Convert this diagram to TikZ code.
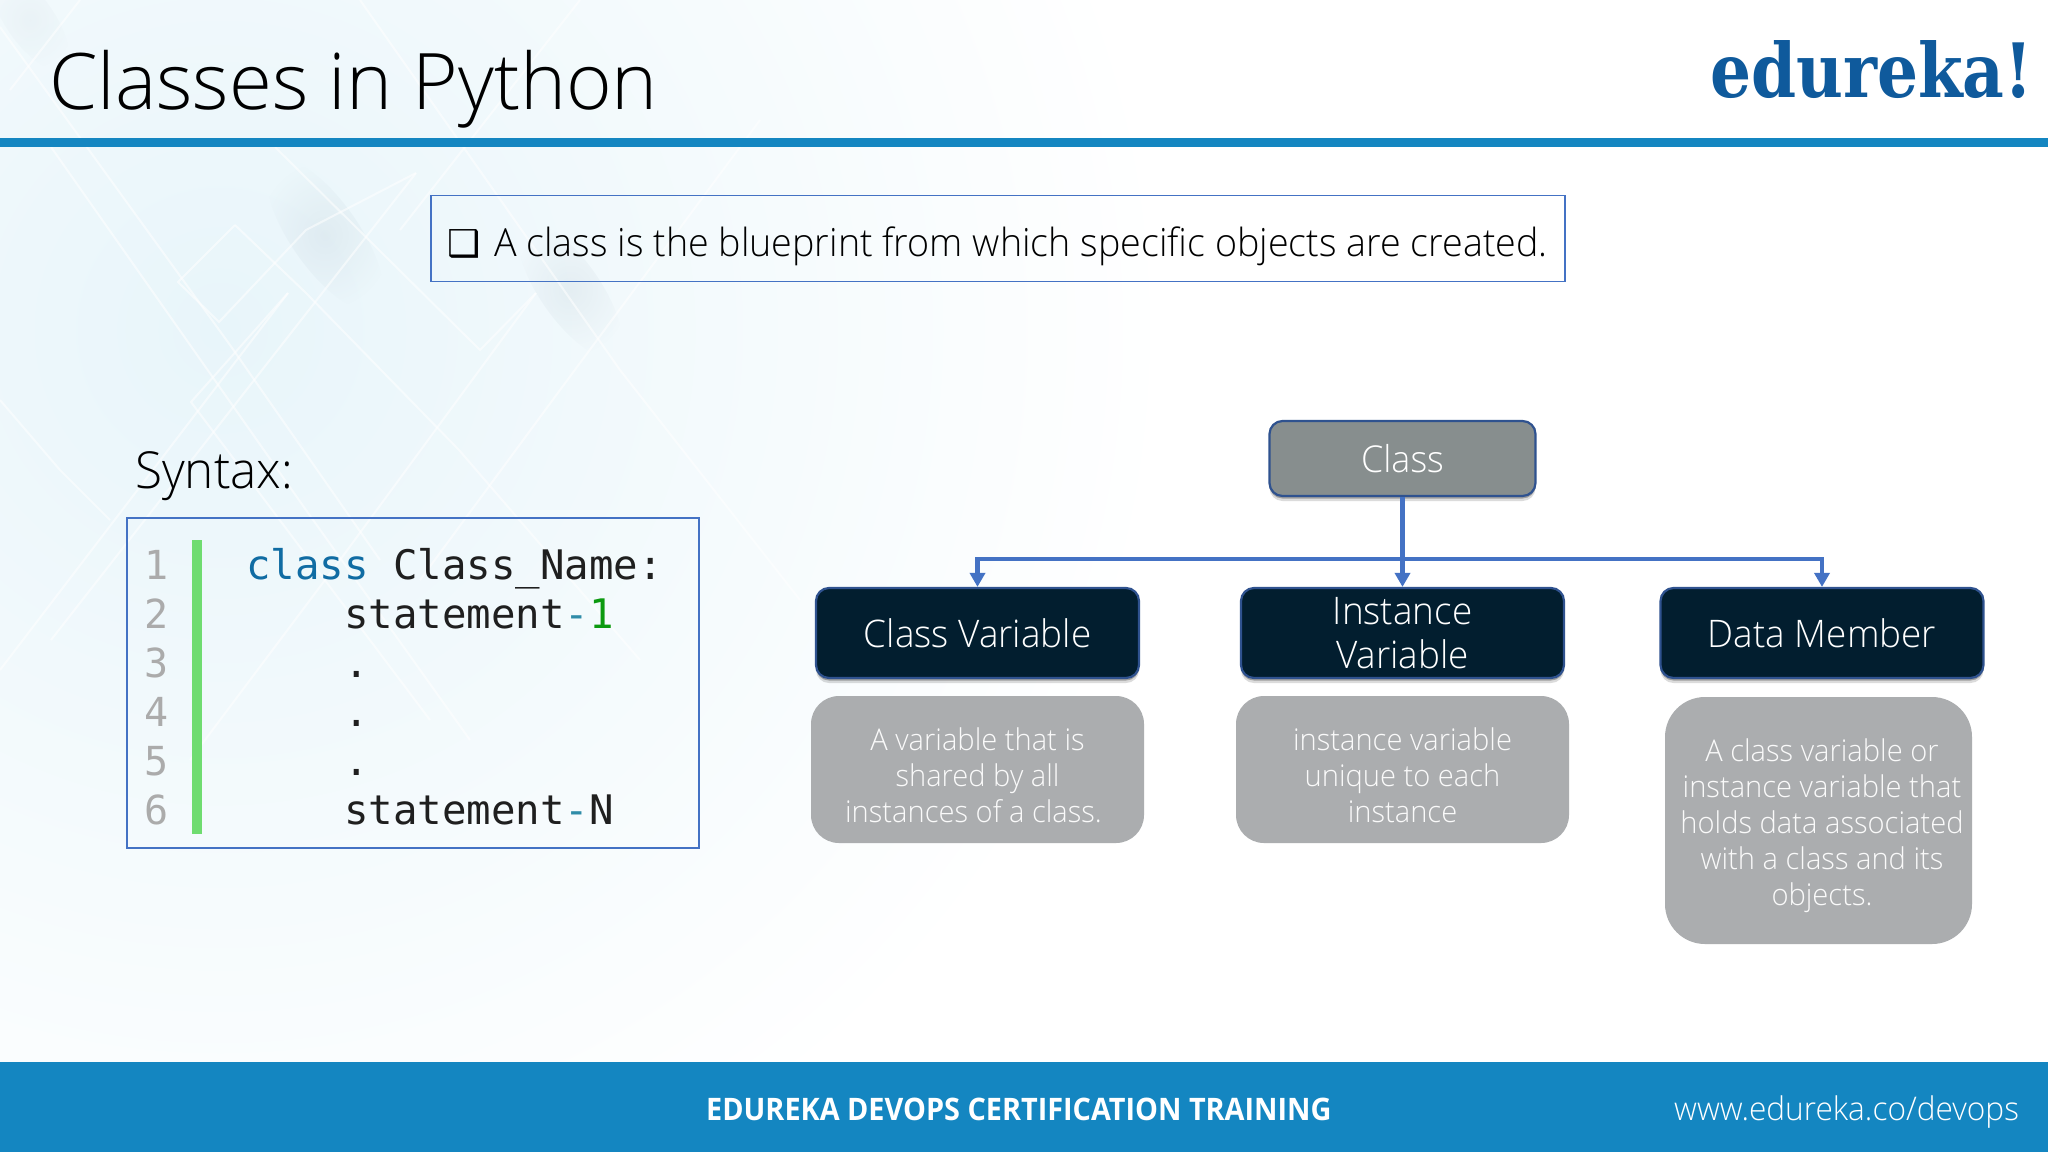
\documentclass[tikz,border=0pt]{standalone}
\usepackage{fontspec}
\usetikzlibrary{arrows.meta,shadows,fadings}
\setmainfont{Open Sans}
\newfontfamily\titlef{Open Sans Light}
\newfontfamily\lightf[FakeStretch=0.97]{Open Sans Light}
\newfontfamily\dingf{DejaVu Sans}
\newfontfamily\monof{DejaVu Sans Mono}
\newfontfamily\logof[FakeStretch=0.86]{DejaVu Serif Bold}
\newfontfamily\footf[FakeStretch=0.93]{Open Sans}
\newcommand{\lowertext}[2]{\raisebox{-#1pt}{#2}}
\definecolor{barblue}{HTML}{1486C1}
\definecolor{logoblue}{HTML}{0F5A9C}
\definecolor{linkblue}{HTML}{4472C4}
\definecolor{edgeblue}{HTML}{2F528F}
\definecolor{navy}{HTML}{021E2F}
\definecolor{midgrey}{HTML}{878E8E}
\definecolor{lightgrey}{HTML}{ABADAF}
\definecolor{palebg}{HTML}{E8F5FA}
\definecolor{blobcol}{HTML}{8FA3B3}
\definecolor{numgrey}{HTML}{ABABAB}
\definecolor{kwblue}{HTML}{106CA3}
\definecolor{optl}{HTML}{2F8CA8}
\definecolor{numgreen}{HTML}{0C9A10}
\definecolor{codegreen}{HTML}{6FDC70}
\tikzfading[name=softblob,inner color=transparent!0,outer color=transparent!100]
\tikzset{
  x=1pt,y=-1pt,
  softshadow/.style={drop shadow={shadow xshift=0pt,shadow yshift=-5pt,opacity=.14,fill=black},
                     drop shadow={shadow xshift=0pt,shadow yshift=-2.5pt,opacity=.28,fill=black}},
  topbox/.style={draw=edgeblue,line width=2.2pt,rounded corners=13pt,inner sep=0pt,softshadow,text=white,align=center},
  parentbox/.style={topbox,fill=midgrey,minimum width=266pt,minimum height=75pt,font=\lightf\fontsize{37}{46}\selectfont},
  memberbox/.style={topbox,fill=navy,minimum width=323pt,minimum height=90pt,font=\lightf\fontsize{38}{46}\selectfont},
  descbox/.style={fill=lightgrey,inner sep=0pt,rounded corners=28pt},
  desctext/.style={text=white!94!lightgrey,align=center,inner sep=0pt,font=\lightf\fontsize{30}{36}\selectfont},
  framebox/.style={draw=linkblue,line width=1.6pt,inner sep=0pt},
  conn/.style={draw=linkblue,line width=4.5pt,-{Triangle[width=15pt,length=14pt]}},
  plainlabel/.style={inner sep=0pt,anchor=base west},
  codeline/.style={plainlabel,font=\monof\fontsize{40.7}{40}\selectfont,text=black!88},
  numline/.style={plainlabel,font=\monof\fontsize{40}{40}\selectfont,text=numgrey},
  bgline/.style={draw=white,line width=2pt,opacity=.55},
  bgblob/.style={fill=blobcol,opacity=.13,path fading=softblob}
}
\begin{document}
\begin{tikzpicture}
\useasboundingbox (0,0) rectangle (2048,1152);
% background
\fill[white] (0,0) rectangle (2048,1152);
\begin{scope}
\clip (0,0) rectangle (2048,1062);
\shade[inner color=palebg,outer color=white] (220,330) circle[radius=950];
\fill[bgblob,rotate around={-55:(325,235)}] (325,235) ellipse[x radius=90,y radius=34];
\fill[bgblob,rotate around={-55:(570,290)}] (570,290) ellipse[x radius=80,y radius=30];
\fill[bgblob,opacity=.07,rotate around={-55:(30,20)}] (30,20) ellipse[x radius=60,y radius=24];
\draw[bgline] (0,27) -- (230,345) -- (380,560);
\draw[bgline] (51,147) -- (306,510) -- (470,740);
\draw[bgline] (275,147) -- (480,350) -- (536,293);
\draw[bgline] (235,225) -- (178,282) -- (219,322) -- (306,230) -- (416,173);
\draw[bgline] (235,225) -- (306,293) -- (459,450) -- (640,660);
\draw[bgline] (416,173) -- (51,640);
\draw[bgline] (288,293) -- (191,402) -- (430,720);
\draw[bgline] (288,293) -- (0,670);
\draw[bgline] (536,293) -- (340,560) -- (190,760);
\draw[bgline] (0,400) -- (60,470) -- (110,520);
\draw[bgline] (360,0) -- (620,370) -- (800,600);
\draw[bgline] (80,0) -- (10,90);
\draw[bgline] (580,0) -- (400,230);
\draw[bgline] (760,120) -- (560,390) -- (420,580);
\end{scope}
% bars
\fill[barblue] (0,138) rectangle (2048,147);
\fill[barblue] (0,1062) rectangle (2048,1152);
% header
\node[plainlabel,font=\titlef\fontsize{78}{78}\selectfont] (title) at (49,109) {Classes in Python};
\node[plainlabel,font=\logof\fontsize{75}{75}\selectfont,text=logoblue] (logo) at (1710,97) {edureka!};
% definition
\node[framebox,minimum width=1134pt,minimum height=86pt] (defbox) at (998,238.5) {};
\node[plainlabel,font=\dingf\fontsize{37}{37}\selectfont] (bullet) at (447,256) {❑};
\node[plainlabel,font=\lightf\fontsize{38.8}{39}\selectfont] (deftext) at (494,256) {A class is the blueprint from which specific objects are created.};
% syntax
\node[plainlabel,font=\lightf\fontsize{51}{51}\selectfont] (syntax) at (135,488) {Syntax:};
\node[framebox,minimum width=572pt,minimum height=330pt] (codebox) at (413,683) {};
\fill[codegreen] (192,540) rectangle (202,834);
\node[numline] (n1) at (144,579) {1};
\node[numline] (n2) at (144,628) {2};
\node[numline] (n3) at (144,677) {3};
\node[numline] (n4) at (144,726) {4};
\node[numline] (n5) at (144,775) {5};
\node[numline] (n6) at (144,824) {6};
\node[codeline] (c1) at (246,579.5) {\textcolor{kwblue}{class} Class\_Name:};
\node[codeline] (c2) at (344,628.5) {statement\textcolor{optl}{-}\textcolor{numgreen}{1}};
\node[codeline] (c3) at (344,677.5) {.};
\node[codeline] (c4) at (344,726.5) {.};
\node[codeline] (c5) at (344,775.5) {.};
\node[codeline] (c6) at (344,824.5) {statement\textcolor{optl}{-}N};
% tree
\node[parentbox] (class) at (1402.5,458.5) {\lowertext{2}{Class}};
\node[memberbox] (cv) at (977.5,633) {\lowertext{2.6}{Class Variable}};
\node[memberbox] (iv) at (1402.5,633) {\lowertext{4.5}{Instance}\\\lowertext{2.5}{Variable}};
\node[memberbox] (dm) at (1822,633) {\lowertext{2.6}{Data Member}};
\coordinate (bus) at (1402.5,559);
\draw[conn] (class.south) -- (iv.north);
\draw[conn] (bus) -| (cv.north);
\draw[conn] (bus) -| (dm.north);
% descriptions
\node[descbox,minimum width=333pt,minimum height=147pt] (cvd) at (977.5,769.5) {};
\node[descbox,minimum width=333pt,minimum height=147pt] (ivd) at (1402.5,769.5) {};
\node[descbox,rounded corners=40pt,minimum width=307pt,minimum height=247pt] (dmd) at (1818.5,820.5) {};
\node[desctext] (cvt) at (977.5,775.5) {A variable that is\\shared by all\\instances of a class.\kern8pt};
\node[desctext] (ivt) at (1402.5,775.5) {instance variable\\unique to each\\instance};
\node[desctext] (dmt) at (1822,825.5) {A class variable or\\instance variable that\\holds data associated\\with a class and its\\objects.};
% footer
\node[plainlabel,font=\footf\bfseries\fontsize{31}{31}\selectfont,text=white] (foot) at (706,1120) {EDUREKA DEVOPS CERTIFICATION TRAINING};
\node[plainlabel,font=\lightf\fontsize{32.6}{33}\selectfont,text=white] (url) at (1674,1120) {www.edureka.co/devops};
\end{tikzpicture}
\end{document}
